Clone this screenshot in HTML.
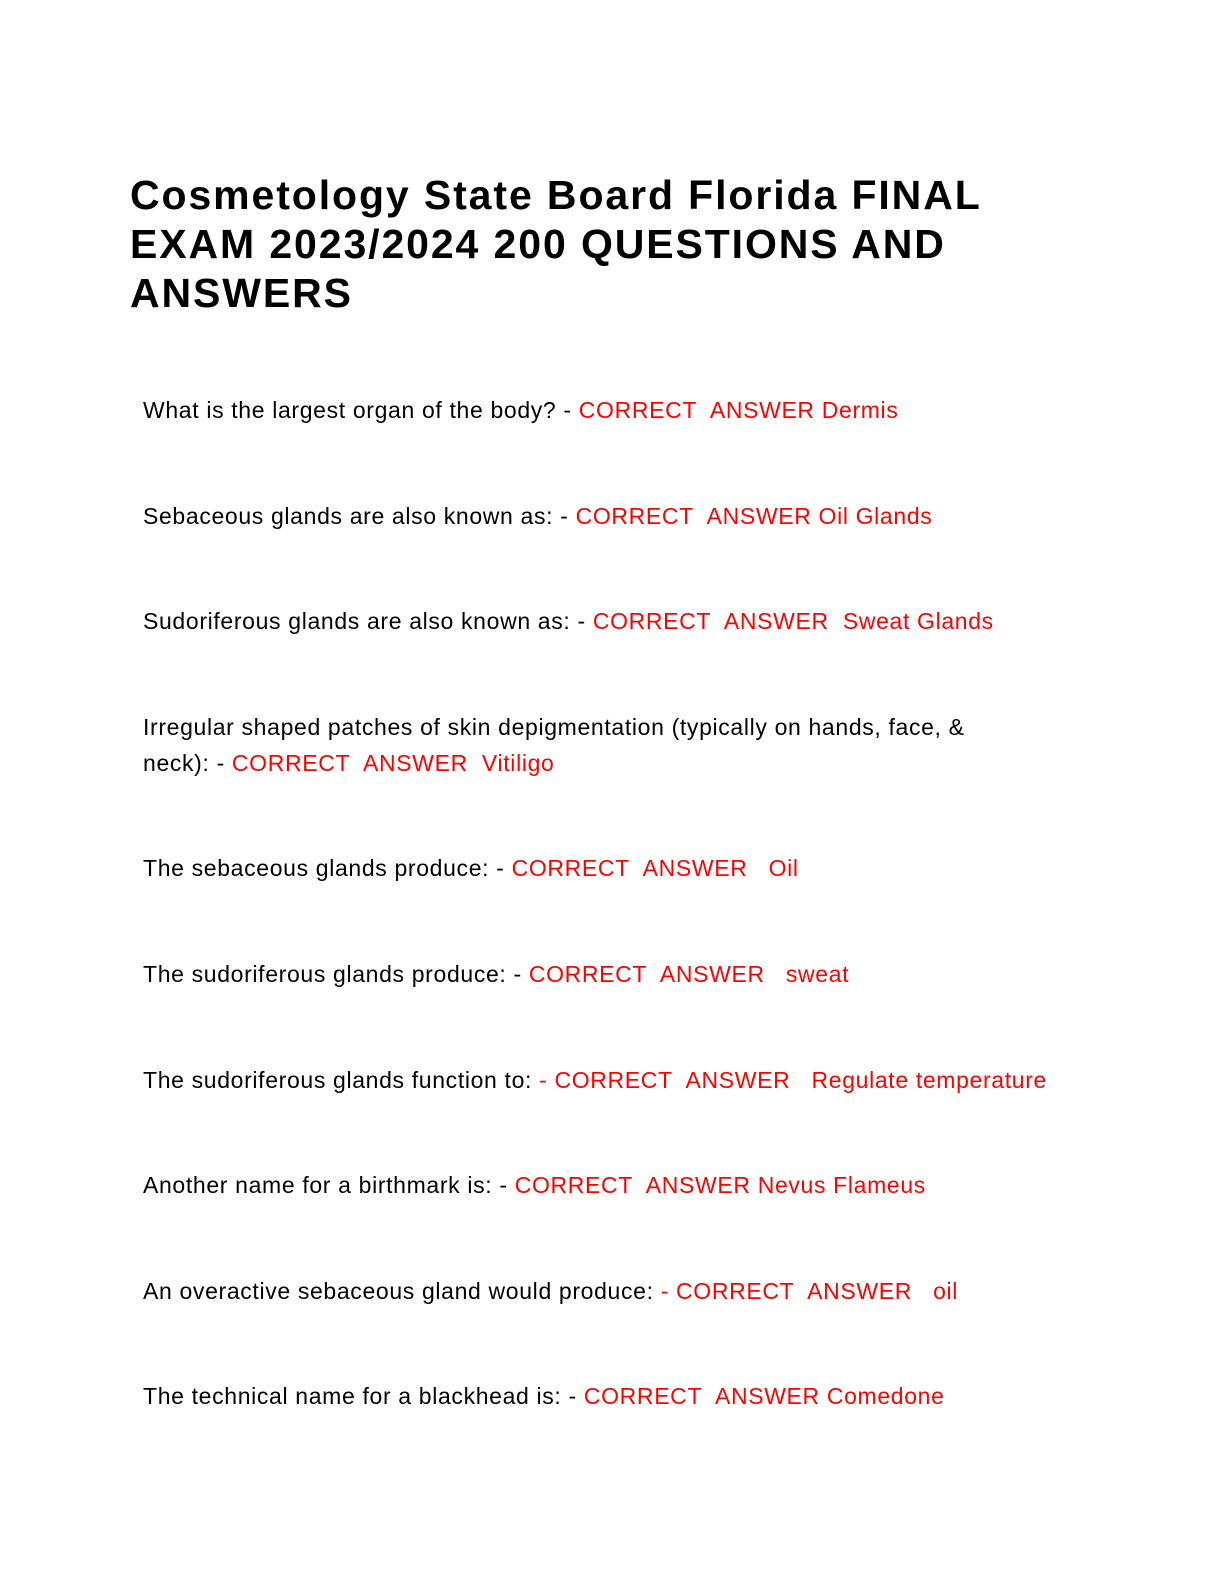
<!DOCTYPE html>
<html><head><meta charset="utf-8"><style>
body{margin:0;width:1224px;height:1584px;background:#fff;position:relative;overflow:hidden}
.t{position:absolute;left:130px;font-family:"Liberation Sans",sans-serif;font-weight:bold;font-size:41px;letter-spacing:1.9px;color:#000;line-height:49px;top:171px;width:1000px}
.q{position:absolute;left:143px;font-family:"Liberation Sans",sans-serif;font-size:23px;color:#000;line-height:36px;white-space:nowrap;letter-spacing:0.65px}
.r{color:#ff0000}
</style></head><body>
<div class="t">Cosmetology State Board Florida FINAL<br>EXAM 2023/2024 200 QUESTIONS AND<br>ANSWERS</div>
<div class="q" style="top:392px">What is the largest organ of the body? - <span class="r">CORRECT&nbsp; ANSWER Dermis</span></div>
<div class="q" style="top:497.6px">Sebaceous glands are also known as: - <span class="r">CORRECT&nbsp; ANSWER Oil Glands</span></div>
<div class="q" style="top:603.2px">Sudoriferous glands are also known as: - <span class="r">CORRECT&nbsp; ANSWER&nbsp; Sweat Glands</span></div>
<div class="q" style="top:708.8px">Irregular shaped patches of skin depigmentation (typically on hands, face, &amp;<br>neck): - <span class="r">CORRECT&nbsp; ANSWER&nbsp; Vitiligo</span></div>
<div class="q" style="top:850.4px">The sebaceous glands produce: - <span class="r">CORRECT&nbsp; ANSWER&nbsp;&nbsp; Oil</span></div>
<div class="q" style="top:956px">The sudoriferous glands produce: - <span class="r">CORRECT&nbsp; ANSWER&nbsp;&nbsp; sweat</span></div>
<div class="q" style="top:1061.6px">The sudoriferous glands function to: <span class="r">- CORRECT&nbsp; ANSWER&nbsp;&nbsp; Regulate temperature</span></div>
<div class="q" style="top:1167.2px">Another name for a birthmark is: - <span class="r">CORRECT&nbsp; ANSWER Nevus Flameus</span></div>
<div class="q" style="top:1272.8px">An overactive sebaceous gland would produce: <span class="r">- CORRECT&nbsp; ANSWER&nbsp;&nbsp; oil</span></div>
<div class="q" style="top:1378.4px">The technical name for a blackhead is: - <span class="r">CORRECT&nbsp; ANSWER Comedone</span></div>
</body></html>
